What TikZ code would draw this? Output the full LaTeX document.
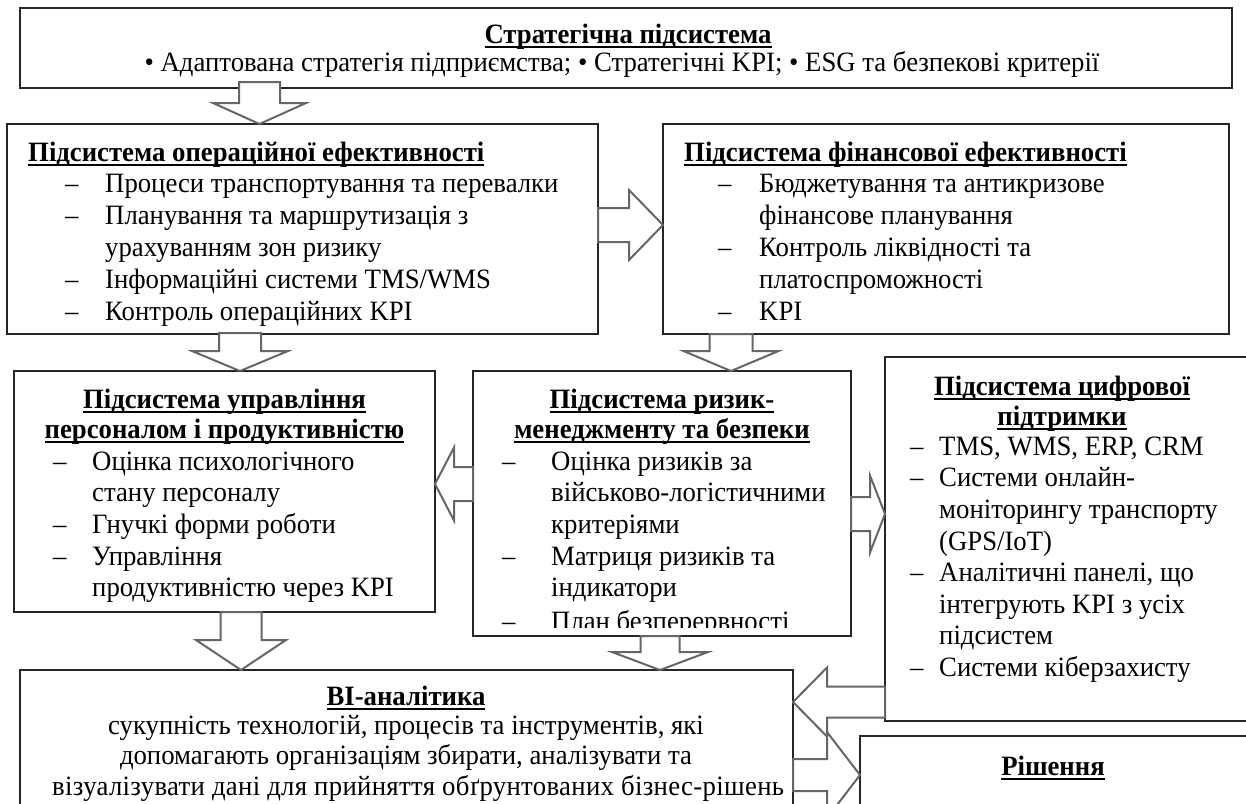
\documentclass[tikz,border=0pt]{standalone}
\usepackage{fontspec}
\setmainfont[FakeStretch=0.955]{Liberation Serif}
\usetikzlibrary{calc,fit}
\definecolor{boxc}{HTML}{262626}
\definecolor{arrc}{HTML}{666666}
\newcommand\myfs{\fontsize{28pt}{32pt}\selectfont}
\newcommand\myul[1]{\setbox0\hbox{#1}\rlap{\rule[-5pt]{\wd0}{1.7pt}}\box0}
% down arrow: #1 x-coord, #2 source, #3 target, #4 shaft half, #5 head half, #6 head length, #7 shaft overlap
\newcommand\darrow[7]{\draw[barrow] let \p1=(#1 |- #2.south), \p2=(#1 |- #3.north) in
 (\x1-#4pt,\y1+#7pt) -- (\x1-#4pt,\y2+#6pt) -- (\x1-#5pt,\y2+#6pt) -- (\x2,\y2) -- (\x1+#5pt,\y2+#6pt) -- (\x1+#4pt,\y2+#6pt) -- (\x1+#4pt,\y1+#7pt) -- cycle;}
% right arrow
\newcommand\rarrow[6]{\draw[barrow] let \p1=(#2.east |- #1), \p2=(#3.west |- #1) in
 (\x1,\y1+#4pt) -- (\x2-#6pt,\y1+#4pt) -- (\x2-#6pt,\y1+#5pt) -- (\x2,\y1) -- (\x2-#6pt,\y1-#5pt) -- (\x2-#6pt,\y1-#4pt) -- (\x1,\y1-#4pt) -- cycle;}
% left arrow
\newcommand\larrow[6]{\draw[barrow] let \p1=(#2.west |- #1), \p2=(#3.east |- #1) in
 (\x1,\y1+#4pt) -- (\x2+#6pt,\y1+#4pt) -- (\x2+#6pt,\y1+#5pt) -- (\x2,\y1) -- (\x2+#6pt,\y1-#5pt) -- (\x2+#6pt,\y1-#4pt) -- (\x1,\y1-#4pt) -- cycle;}
\begin{document}
\begin{tikzpicture}[x=1pt,y=-1pt,
  box/.style={draw=boxc, line width=1.4pt, inner sep=0pt, outer sep=0pt},
  barrow/.style={draw=arrc, line width=2pt, fill=white, line join=miter},
  txt/.style={inner sep=0pt, anchor=base west, font=\myfs},
  ctxt/.style={inner sep=0pt, anchor=base, font=\myfs},
  ttl/.style={inner sep=0pt, anchor=base west, font=\myfs\bfseries},
  cttl/.style={inner sep=0pt, anchor=base, font=\myfs\bfseries},
]
\useasboundingbox[fill=white] (0,0) rectangle (1246,803);

% ---- boxes
\coordinate (top-a) at (20,8);    \coordinate (top-b) at (1232,88);
\coordinate (ops-a) at (7,124);   \coordinate (ops-b) at (598,334);
\coordinate (fin-a) at (663,124); \coordinate (fin-b) at (1229,334);
\coordinate (pers-a) at (14,371); \coordinate (pers-b) at (435,612);
\coordinate (risk-a) at (473,371);\coordinate (risk-b) at (851,636);
\coordinate (dig-a) at (885,357); \coordinate (dig-b) at (1262,721);
\coordinate (bi-a) at (20,670);   \coordinate (bi-b) at (793,840);
\coordinate (dec-a) at (860,736); \coordinate (dec-b) at (1262,840);
\node[box, fit=(top-a)(top-b)] (top) {};
\node[box, fit=(ops-a)(ops-b)] (ops) {};
\node[box, fit=(fin-a)(fin-b)] (fin) {};
\node[box, fit=(pers-a)(pers-b)] (pers) {};
\node[box, fit=(risk-a)(risk-b)] (risk) {};
\node[box, fit=(dig-a)(dig-b)] (dig) {};
\node[box, fit=(bi-a)(bi-b)] (bi) {};
\node[box, fit=(dec-a)(dec-b)] (dec) {};

% ---- arrow positions
\coordinate (x1) at (259.5,0);
\coordinate (x3) at (240,0);
\coordinate (x4) at (731,0);
\coordinate (x7) at (241,0);
\coordinate (x8) at (660,0);
\coordinate (y2) at (0,225);
\coordinate (y5) at (0,484);
\coordinate (y6) at (0,514);
\coordinate (y9) at (0,702);
\coordinate (y10) at (0,775);

\darrow{x1}{top}{ops}{20.5}{46.5}{21}{6}
\darrow{x3}{ops}{pers}{21}{48}{20}{1}
\darrow{x4}{fin}{risk}{21.5}{47.5}{20}{0}
\darrow{x7}{pers}{bi}{20.5}{45}{30}{0}
\darrow{x8}{risk}{bi}{19.5}{48}{18}{0}
\rarrow{y2}{ops}{fin}{17}{35}{34}
\larrow{y5}{risk}{pers}{17}{36.5}{19}
\rarrow{y6}{risk}{dig}{17}{38.5}{15}
\larrow{y9}{dig}{bi}{15.5}{34.5}{34}
\rarrow{y10}{bi}{dec}{16}{43}{33}

% ---- top
\node[cttl] (top-t) at (628,43) {\myul{Стратегічна підсистема}};
\node[ctxt] (top-1) at (622,71) {• Адаптована стратегія підприємства; • Стратегічні KPI; • ESG та безпекові критерії};

% ---- operational
\node[ttl] (ops-t) at (28,161) {\myul{Підсистема операційної ефективності}};
\node[txt] (ops-d1) at (65,192) {–};
\node[txt] (ops-1) at (105,192) {Процеси транспортування та перевалки};
\node[txt] (ops-d2) at (65,224) {–};
\node[txt] (ops-2) at (105,224) {Планування та маршрутизація з};
\node[txt] (ops-2b) at (105,256) {урахуванням зон ризику};
\node[txt] (ops-d3) at (65,288) {–};
\node[txt] (ops-3) at (105,288) {Інформаційні системи TMS/WMS};
\node[txt] (ops-d4) at (65,320) {–};
\node[txt] (ops-4) at (105,320) {Контроль операційних KPI};

% ---- financial
\node[ttl] (fin-t) at (684,161) {\myul{Підсистема фінансової ефективності}};
\node[txt] (fin-d1) at (718,192) {–};
\node[txt] (fin-1) at (759,192) {Бюджетування та антикризове};
\node[txt] (fin-1b) at (759,224) {фінансове планування};
\node[txt] (fin-d2) at (718,256) {–};
\node[txt] (fin-2) at (759,256) {Контроль ліквідності та};
\node[txt] (fin-2b) at (759,288) {платоспроможності};
\node[txt] (fin-d3) at (718,320) {–};
\node[txt] (fin-3) at (759,320) {KPI};

% ---- personnel
\node[cttl] (pers-t1) at (224.5,408) {\myul{Підсистема управління}};
\node[cttl] (pers-t2) at (224.5,438) {\myul{персоналом і продуктивністю}};
\node[txt] (pers-d1) at (53,470) {–};
\node[txt] (pers-1) at (92,470) {Оцінка психологічного};
\node[txt] (pers-1b) at (92,501) {стану персоналу};
\node[txt] (pers-d2) at (53,533) {–};
\node[txt] (pers-2) at (92,533) {Гнучкі форми роботи};
\node[txt] (pers-d3) at (53,565) {–};
\node[txt] (pers-3) at (92,565) {Управління};
\node[txt] (pers-3b) at (92,596) {продуктивністю через KPI};

% ---- risk
\node[cttl] (risk-t1) at (662,408) {\myul{Підсистема ризик-}};
\node[cttl] (risk-t2) at (662,438) {\myul{менеджменту та безпеки}};
\node[txt] (risk-d1) at (502,470) {–};
\node[txt] (risk-1) at (551,470) {Оцінка ризиків за};
\node[txt] (risk-1b) at (551,501) {військово-логістичними};
\node[txt] (risk-1c) at (551,533) {критеріями};
\node[txt] (risk-d2) at (502,565) {–};
\node[txt] (risk-2) at (551,565) {Матриця ризиків та};
\node[txt] (risk-2b) at (551,596) {індикатори};
\begin{scope}
\clip (473,371) rectangle (851,627);
\node[txt] (risk-d3) at (502,630) {–};
\node[txt] (risk-3) at (551,630) {План безперервності};
\end{scope}

% ---- digital
\node[cttl] (dig-t1) at (1062,395) {\myul{Підсистема цифрової}};
\node[cttl] (dig-t2) at (1062,425) {\myul{підтримки}};
\node[txt] (dig-d1) at (910,455) {–};
\node[txt] (dig-1) at (939,455) {TMS, WMS, ERP, CRM};
\node[txt] (dig-d2) at (910,486) {–};
\node[txt] (dig-2) at (939,486) {Системи онлайн-};
\node[txt] (dig-2b) at (939,518) {моніторингу транспорту};
\node[txt] (dig-2c) at (939,550) {(GPS/IoT)};
\node[txt] (dig-d3) at (910,581) {–};
\node[txt] (dig-3) at (939,581) {Аналітичні панелі, що};
\node[txt] (dig-3b) at (939,613) {інтегрують KPI з усіх};
\node[txt] (dig-3c) at (939,644) {підсистем};
\node[txt] (dig-d4) at (910,676) {–};
\node[txt] (dig-4) at (939,676) {Системи кіберзахисту};

% ---- BI
\node[cttl] (bi-t) at (406,705) {\myul{BI-аналітика}};
\node[ctxt] (bi-1) at (406,734) {сукупність технологій, процесів та інструментів, які};
\node[ctxt] (bi-2) at (406,764) {допомагають організаціям збирати, аналізувати та};
\node[txt] (bi-3) at (52,795) {\addfontfeature{LetterSpace=1.2}візуалізувати дані для прийняття обґрунтованих бізнес-рішень};

% ---- decision
\node[cttl] (dec-t) at (1053,775) {\myul{Рішення}};
\end{tikzpicture}
\end{document}
